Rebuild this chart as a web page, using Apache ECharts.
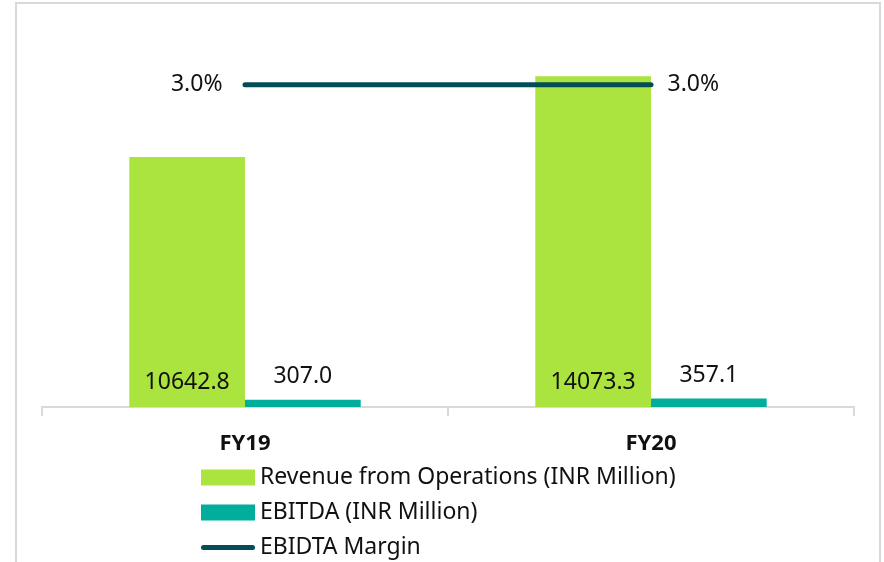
<!DOCTYPE html>
<html>
<head>
<meta charset="utf-8">
<script src="https://cdn.jsdelivr.net/npm/echarts@6/dist/echarts.min.js"></script>
<style>
  html, body { margin: 0; padding: 0; background: #fff; }
  #chart { width: 884px; height: 562px; }
</style>
</head>
<body>
<div id="chart"></div>
<script>
// categories and values
var years = ['FY19', 'FY20']
var revenue = [10642.8, 14073.3]
var ebitda = [307.0, 357.1]
var margin = [3.0, 3.0]

var font = 'Noto Sans'
var chart = echarts.init(document.getElementById('chart'))

// legend icon for the margin line: thick bar with round ends
var lineIcon = 'path://M2.5,0 h49 a2.5,2.5 0 0 1 0,5 h-49 a2.5,2.5 0 0 1 0,-5 z'

var option = {
  backgroundColor: '#fff',
  textStyle: { fontFamily: font },
  // light frame around the chart
  graphic: [{
    type: 'rect',
    shape: { x: 16, y: 3, width: 864, height: 600 },
    style: { fill: 'none', stroke: '#d9d9d9', lineWidth: 2 },
    silent: true
  }],
  grid: { left: 42, right: 30, top: 31, bottom: 155 },
  legend: {
    orient: 'vertical',
    left: 201,
    top: 466,
    padding: 0,
    itemGap: 12,
    itemWidth: 54,
    itemHeight: 16,
    symbolKeepAspect: true,
    textStyle: { fontFamily: font, fontSize: 23, color: '#111' },
    data: [
      { name: 'Revenue from Operations (INR Million)', icon: 'rect' },
      { name: 'EBITDA (INR Million)', icon: 'rect' },
      { name: 'EBIDTA Margin', icon: lineIcon }
    ]
  },
  xAxis: {
    type: 'category',
    data: years,
    axisLine: { lineStyle: { color: '#d9d9d9', width: 2 } },
    axisTick: { show: true, length: 9, lineStyle: { color: '#d9d9d9', width: 2 } },
    axisLabel: { fontFamily: font, fontSize: 22, fontWeight: 'bold', color: '#111', margin: 26 }
  },
  yAxis: [
    { type: 'value', min: 0, max: 16000, show: false, splitLine: { show: false } },
    { type: 'value', min: 0, max: 3.5, show: false, splitLine: { show: false } }
  ],
  series: [
    {
      name: 'Revenue from Operations (INR Million)',
      type: 'bar',
      data: revenue,
      barGap: '0%',
      barCategoryGap: '43%',
      itemStyle: { color: '#abe33f' },
      label: {
        show: true,
        position: 'insideBottom',
        distance: 13,
        fontFamily: font,
        fontSize: 23,
        color: '#111',
        formatter: function (p) { return p.value.toFixed(1) }
      }
    },
    {
      name: 'EBITDA (INR Million)',
      type: 'bar',
      data: ebitda,
      itemStyle: { color: '#00ae9b' },
      label: {
        show: true,
        position: 'top',
        distance: 12,
        fontFamily: font,
        fontSize: 23,
        color: '#111',
        formatter: function (p) { return p.value.toFixed(1) }
      }
    },
    {
      name: 'EBIDTA Margin',
      type: 'line',
      yAxisIndex: 1,
      data: margin.map(function (v, i) {
        return { value: v, label: { position: i === 0 ? 'left' : 'right', distance: i === 0 ? 22 : 16 } }
      }),
      z: 5,
      symbol: 'circle',
      symbolSize: 1,
      showSymbol: true,
      itemStyle: { color: '#024d56' },
      lineStyle: { color: '#024d56', width: 5, cap: 'round' },
      label: {
        show: true,
        fontFamily: font,
        fontSize: 23,
        color: '#111',
        formatter: function (p) { return p.value.toFixed(1) + '%' }
      }
    }
  ]
}

chart.setOption(option)
</script>
</body>
</html>
